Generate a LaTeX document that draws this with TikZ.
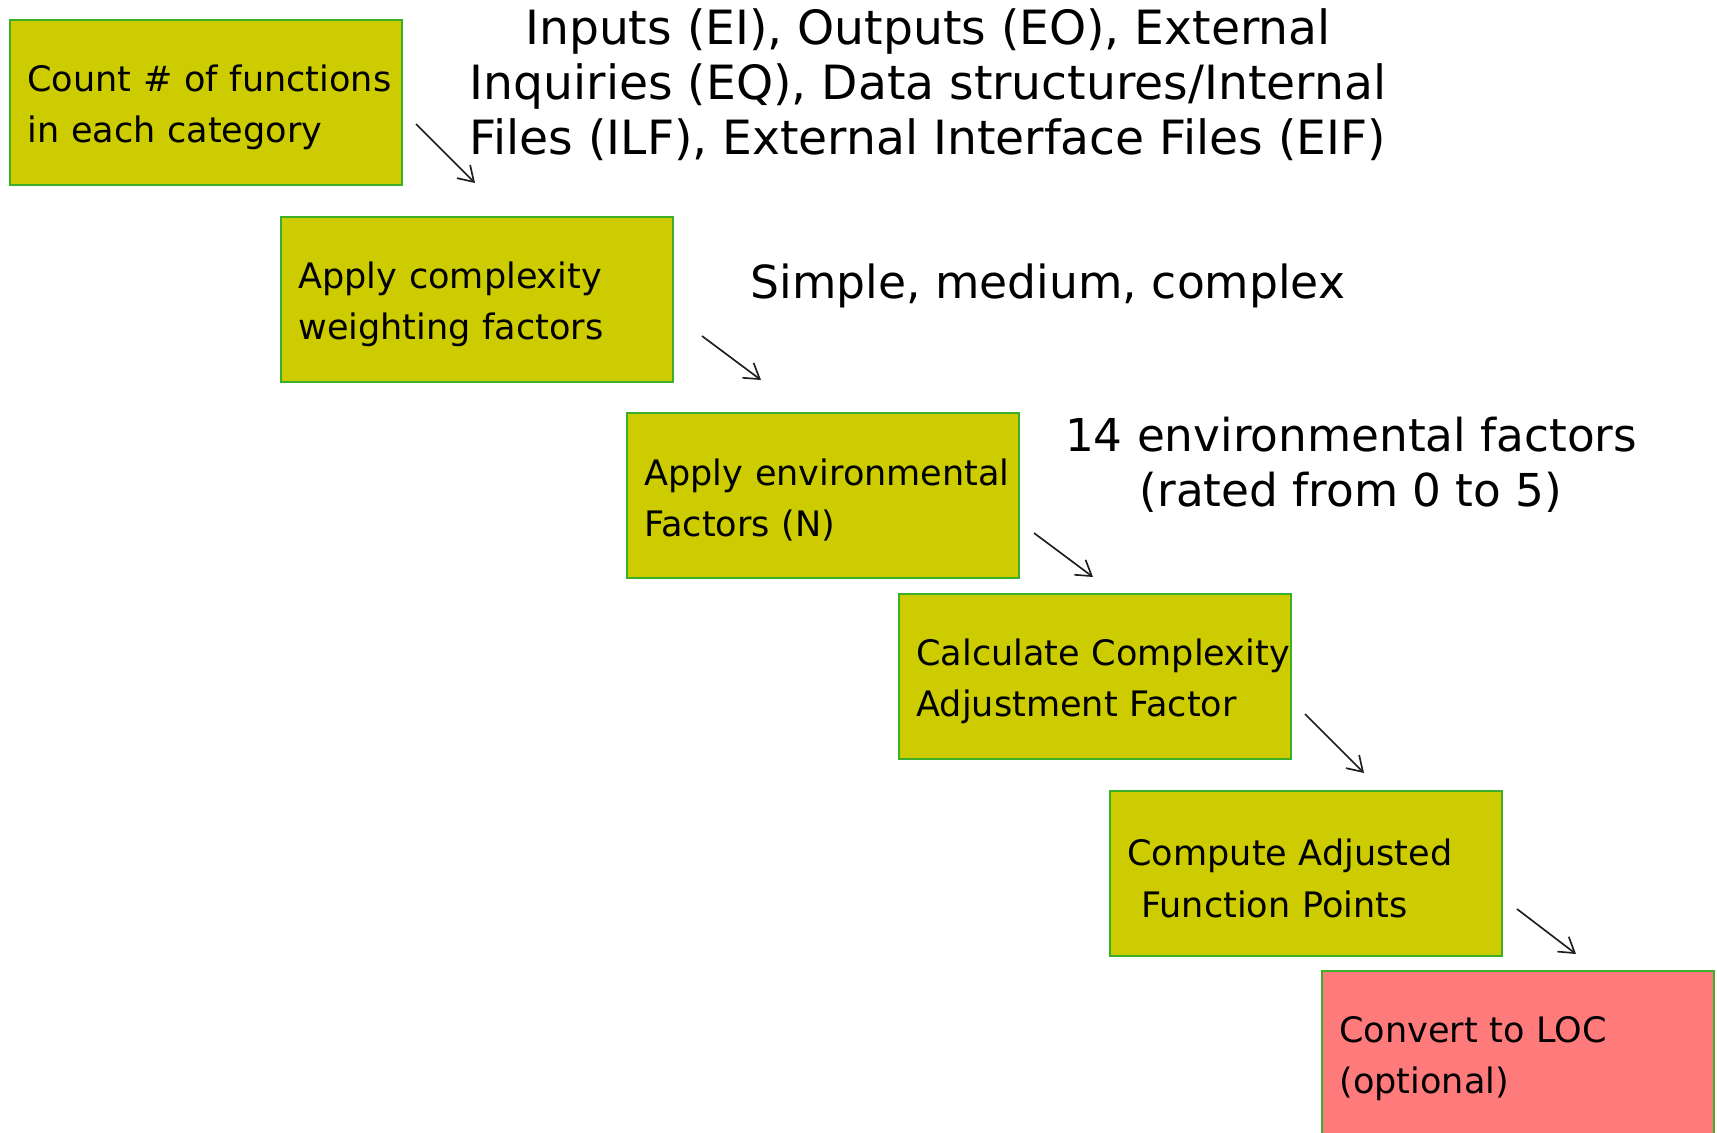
\documentclass[tikz,border=0pt]{standalone}
\usepackage{fontspec}
\setmainfont{DejaVu Sans}
\usetikzlibrary{arrows.meta}
\definecolor{stepfill}{RGB}{204,204,0}
\definecolor{lastfill}{RGB}{255,122,122}
\definecolor{stepedge}{RGB}{60,175,40}
\definecolor{arrowgray}{RGB}{30,30,30}
\begin{document}
\begin{tikzpicture}[x=0.75pt,y=-0.75pt,
  stepbox/.style={draw=stepedge, line width=1.6pt, fill=stepfill, anchor=north west,
    minimum width=294pt, minimum height=123.75pt, inner xsep=0pt, inner ysep=0pt,
    text width=294pt, align=left, font=\fontsize{26.3}{38.6}\selectfont,
    execute at begin node={\leftskip=13pt\rightskip=-30pt plus 1fil\hyphenpenalty=10000\rule{0pt}{27pt}}},
  lastbox/.style={stepbox, fill=lastfill},
  note/.style={align=center, font=\fontsize{34.2}{41.25}\selectfont},
  flow/.style={draw=arrowgray, line width=1.25pt, -{Straight Barb[length=11pt,width=14pt]}}]
\useasboundingbox (0,0) rectangle (1717,1132);
% process steps
\node[stepbox] (count) at (9,19) {Count \# of functions\\in each category};
\node[stepbox] (weight) at (280,216) {Apply complexity\\weighting factors};
\node[stepbox] (env) at (626,412) {Apply environmental\\Factors (N)};
\node[stepbox] (caf) at (898,593) {Calculate Complexity\\Adjustment Factor};
\node[stepbox] (afp) at (1109,790) {Compute Adjusted\\\hspace*{0.4em}Function Points};
\node[lastbox] (loc) at (1321,970) {Convert to LOC\\(optional)};
% annotations
\node[note, font=\fontsize{35.4}{41.25}\selectfont] (cats) at (928,85) {Inputs (EI), Outputs (EO), External\\Inquiries (EQ), Data structures/Internal\\Files (ILF), External Interface Files (EIF)};
\node[note] (levels) at (1048,286) {Simple, medium, complex};
\node[note, font=\fontsize{34}{41.25}\selectfont] (factors) at (1351,465) {14 environmental factors\\(rated from 0 to 5)};
% arrow end points
\coordinate (a1s) at (416,124); \coordinate (a1e) at (475,183);
\coordinate (a2s) at (702,336); \coordinate (a2e) at (761,380);
\coordinate (a3s) at (1034,533); \coordinate (a3e) at (1093,577);
\coordinate (a4s) at (1305,714); \coordinate (a4e) at (1364,773);
\coordinate (a5s) at (1517,909); \coordinate (a5e) at (1576,954);
\draw[flow] (a1s) -- (a1e);
\draw[flow] (a2s) -- (a2e);
\draw[flow] (a3s) -- (a3e);
\draw[flow] (a4s) -- (a4e);
\draw[flow] (a5s) -- (a5e);
\end{tikzpicture}
\end{document}
